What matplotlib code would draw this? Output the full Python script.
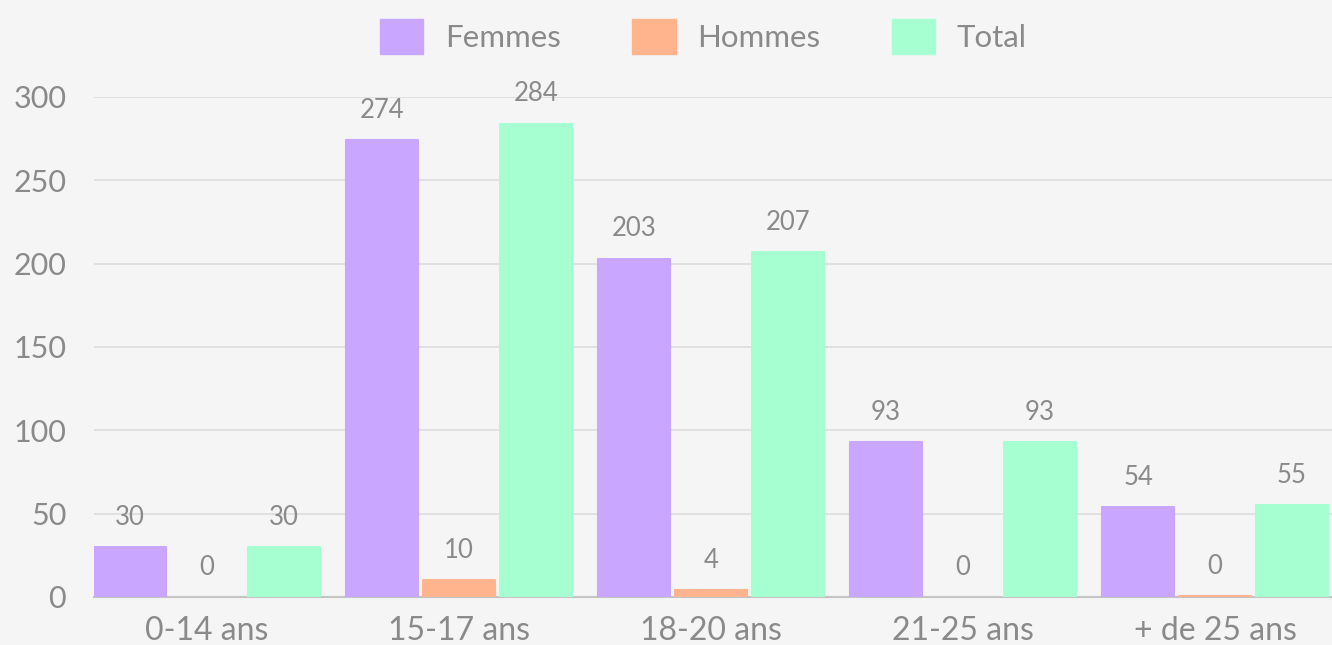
import matplotlib
matplotlib.use("Agg")
import matplotlib.pyplot as plt
import numpy as np
from matplotlib.patches import Patch

categories = ["0-14 ans", "15-17 ans", "18-20 ans", "21-25 ans", "+ de 25 ans"]
femmes = [30, 274, 203, 93, 54]
hommes = [0, 10, 4, 0, 0.5]
total = [30, 284, 207, 93, 55]
series_names = ["Femmes", "Hommes", "Total"]
colors = ["#c9a6ff", "#ffb48e", "#a6ffd0"]
yticks = [0, 50, 100, 150, 200, 250, 300]

plt.rcParams['font.family'] = ['Lato', 'DejaVu Sans']
txt = "#8a8a8a"
bg = "#f5f5f5"

fig = plt.figure(figsize=(13.32, 6.45), dpi=100, facecolor=bg)
ax = fig.add_axes([94/1332, 48/645, 1 - 94/1332, 500/645])
ax.set_facecolor(bg)

x = np.arange(len(categories))
w = 0.283
step = 0.3056
for k, (vals, c) in enumerate(zip([femmes, hommes, total], colors)):
    bars = ax.bar(x + (k - 1) * step, vals, width=w, color=c, edgecolor=c,
                  linewidth=1.5, zorder=3)
    for b, v in zip(bars, vals):
        b.set_joinstyle('round')
        if v == 0:
            b.set_linewidth(0)
    for xi, v in zip(x + (k - 1) * step, vals):
        ax.annotate(f"{int(v)}", (xi, v), xytext=(0, 21.5), textcoords="offset points",
                    ha="center", va="center", fontsize=18.5, color=txt, zorder=4,
                    annotation_clip=False)

ax.set_xlim(-0.448, 4.464)
ax.set_ylim(0, 300)
ax.set_yticks(yticks)
ax.set_yticklabels([str(t) for t in yticks])
ax.set_xticks(x)
ax.set_xticklabels(categories)
ax.tick_params(axis='y', length=0, pad=20, labelsize=22, labelcolor=txt)
ax.tick_params(axis='x', length=0, pad=14, labelsize=23, labelcolor=txt)
ax.grid(axis='y', color="#dedede", linewidth=1.3, zorder=0)
ax.set_axisbelow(True)
for s in ["top", "right", "left"]:
    ax.spines[s].set_visible(False)
ax.spines["bottom"].set_color("#c4c4c4")
ax.spines["bottom"].set_linewidth(1.5)
ax.spines["bottom"].set_zorder(2)

handles = [Patch(facecolor=c, edgecolor=c, label=n) for n, c in zip(series_names, colors)]
fig.legend(handles=handles, loc="center", bbox_to_anchor=(0.528, 0.943), ncol=3,
           frameon=False, fontsize=22.5, labelcolor=txt, handlelength=1.38,
           handleheight=1.33, handletextpad=0.68, columnspacing=2.3)

fig.savefig("out.png", dpi=100, facecolor=bg)
